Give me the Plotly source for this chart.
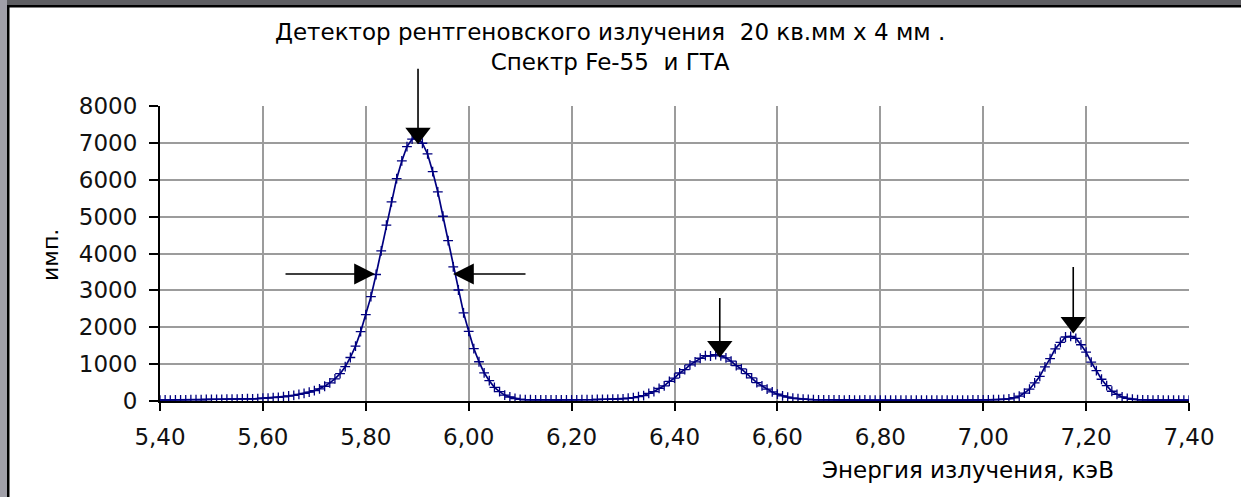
import plotly.graph_objects as go

# ---------------- data ----------------
energy_kev = [
    5.40, 5.41, 5.42, 5.43, 5.44, 5.45, 5.46, 5.47, 5.48, 5.49,
    5.50, 5.51, 5.52, 5.53, 5.54, 5.55, 5.56, 5.57, 5.58, 5.59,
    5.60, 5.61, 5.62, 5.63, 5.64, 5.65, 5.66, 5.67, 5.68, 5.69,
    5.70, 5.71, 5.72, 5.73, 5.74, 5.75, 5.76, 5.77, 5.78, 5.79,
    5.80, 5.81, 5.82, 5.83, 5.84, 5.85, 5.86, 5.87, 5.88, 5.89,
    5.90, 5.91, 5.92, 5.93, 5.94, 5.95, 5.96, 5.97, 5.98, 5.99,
    6.00, 6.01, 6.02, 6.03, 6.04, 6.05, 6.06, 6.07, 6.08, 6.09,
    6.10, 6.11, 6.12, 6.13, 6.14, 6.15, 6.16, 6.17, 6.18, 6.19,
    6.20, 6.21, 6.22, 6.23, 6.24, 6.25, 6.26, 6.27, 6.28, 6.29,
    6.30, 6.31, 6.32, 6.33, 6.34, 6.35, 6.36, 6.37, 6.38, 6.39,
    6.40, 6.41, 6.42, 6.43, 6.44, 6.45, 6.46, 6.47, 6.48, 6.49,
    6.50, 6.51, 6.52, 6.53, 6.54, 6.55, 6.56, 6.57, 6.58, 6.59,
    6.60, 6.61, 6.62, 6.63, 6.64, 6.65, 6.66, 6.67, 6.68, 6.69,
    6.70, 6.71, 6.72, 6.73, 6.74, 6.75, 6.76, 6.77, 6.78, 6.79,
    6.80, 6.81, 6.82, 6.83, 6.84, 6.85, 6.86, 6.87, 6.88, 6.89,
    6.90, 6.91, 6.92, 6.93, 6.94, 6.95, 6.96, 6.97, 6.98, 6.99,
    7.00, 7.01, 7.02, 7.03, 7.04, 7.05, 7.06, 7.07, 7.08, 7.09,
    7.10, 7.11, 7.12, 7.13, 7.14, 7.15, 7.16, 7.17, 7.18, 7.19,
    7.20, 7.21, 7.22, 7.23, 7.24, 7.25, 7.26, 7.27, 7.28, 7.29,
    7.30, 7.31, 7.32, 7.33, 7.34, 7.35, 7.36, 7.37, 7.38, 7.39,
    7.40,
]

counts = [
    25, 28, 24, 30, 33, 29, 35, 37, 34, 40,
    42, 46, 44, 50, 53, 51, 58, 61, 57, 66,
    75, 80, 90, 100, 115, 135, 155, 180, 205, 240,
    280, 330, 400, 490, 600, 740, 930, 1180, 1490, 1880,
    2340, 2830, 3430, 4070, 4770, 5400, 6030, 6510, 6900, 7100,
    7150, 6990, 6700, 6220, 5670, 5010, 4350, 3640, 3010, 2390,
    1890, 1420, 1065, 765, 550, 370, 255, 160, 108, 68,
    45, 38, 34, 30, 32, 28, 30, 27, 31, 29,
    33, 30, 35, 38, 36, 40, 44, 42, 48, 52,
    60, 74, 92, 118, 148, 205, 255, 340, 410, 530,
    620, 760, 850, 980, 1060, 1160, 1230, 1220, 1260, 1225,
    1170, 1080, 960, 870, 740, 625, 500, 410, 320, 245,
    185, 140, 105, 80, 62, 50, 42, 36, 33, 30,
    28, 31, 27, 25, 29, 26, 24, 27, 23, 25,
    22, 26, 24, 21, 25, 23, 22, 24, 20, 23,
    25, 22, 21, 24, 22, 26, 23, 25, 28, 27,
    30, 32, 35, 38, 44, 58, 88, 130, 215, 320,
    490, 670, 925, 1150, 1415, 1590, 1735, 1755, 1700, 1525,
    1325, 1055, 825, 590, 415, 265, 180, 108, 72, 48,
    36, 30, 28, 26, 27, 24, 25, 23, 24, 22,
    23,
]

x_ticks = [5.40, 5.60, 5.80, 6.00, 6.20, 6.40, 6.60, 6.80, 7.00, 7.20, 7.40]
y_ticks = [0, 1000, 2000, 3000, 4000, 5000, 6000, 7000, 8000]

title_lines = ["Детектор рентгеновского излучения  20 кв.мм х 4 мм .", "Спектр Fe-55  и ГТА"]
x_title = "Энергия излучения, кэВ"
y_title = "имп."

# peak markers (energy, count at arrow head) and FWHM level
peak_energy = [5.9015, 6.488, 7.175]
peak_head = [7262, 1478, 2129]
peak_line_len = [66, 50, 57]
fwhm_level = 3444
fwhm_left, fwhm_right = 5.8179, 5.9695

# ---------------- layout geometry ----------------
W, H = 1241, 497
L, R, T, B = 160, 1189, 106, 401


def px(xp):
    return (xp - L) / (R - L)


def py(yp):
    return (B - yp) / (B - T)


FONT = "DejaVu Sans"
NAVY = "#000080"
FS = 23

fig = go.Figure()
fig.add_trace(go.Scatter(
    x=energy_kev, y=counts, mode="lines+markers",
    line=dict(color=NAVY, width=1.7),
    marker=dict(symbol="cross-thin", size=7, line=dict(color=NAVY, width=1.3), color=NAVY),
    hoverinfo="skip", showlegend=False,
))
fig.add_trace(go.Scatter(
    x=peak_energy, y=peak_head, mode="markers",
    marker=dict(symbol="triangle-down", size=22, color="black"),
    cliponaxis=False, hoverinfo="skip", showlegend=False,
))

annotations = []
for e, h, ln in zip(peak_energy, peak_head, peak_line_len):
    annotations.append(dict(x=e, y=h, xref="x", yref="y", text="", showarrow=True,
                            arrowhead=0, arrowwidth=1.6, arrowcolor="black",
                            ax=0, ay=-ln, standoff=0))
annotations.append(dict(x=fwhm_left, y=fwhm_level, xref="x", yref="y", text="", showarrow=True,
                        arrowhead=2, arrowsize=2.6, arrowwidth=1.6, arrowcolor="black",
                        ax=-91, ay=0, standoff=0))
annotations.append(dict(x=fwhm_right, y=fwhm_level, xref="x", yref="y", text="", showarrow=True,
                        arrowhead=2, arrowsize=2.6, arrowwidth=1.6, arrowcolor="black",
                        ax=74, ay=0, standoff=0))
annotations.append(dict(x=px(610), y=py(47), xref="paper", yref="paper",
                        text="<br>".join(title_lines), showarrow=False,
                        xanchor="center", yanchor="middle", align="center",
                        font=dict(family=FONT, size=FS, color="black")))
annotations.append(dict(x=px(968), y=py(470), xref="paper", yref="paper",
                        text=x_title, showarrow=False, xanchor="center", yanchor="middle",
                        font=dict(family=FONT, size=FS, color="black")))
annotations.append(dict(x=px(50), y=py(255), xref="paper", yref="paper",
                        text=y_title, showarrow=False, xanchor="center", yanchor="middle",
                        textangle=-90, font=dict(family=FONT, size=FS - 1, color="black")))

shapes = [
    dict(type="rect", xref="paper", yref="paper", x0=px(0), x1=px(W), y0=py(5), y1=py(0),
         fillcolor="#5e5e62", line=dict(width=0), layer="above"),
    dict(type="rect", xref="paper", yref="paper", x0=px(0), x1=px(7), y0=py(H), y1=py(0),
         fillcolor="#a09fa8", line=dict(width=0), layer="above"),
    dict(type="rect", xref="paper", yref="paper", x0=px(7), x1=px(W), y0=py(7.5), y1=py(5),
         fillcolor="black", line=dict(width=0), layer="above"),
    dict(type="rect", xref="paper", yref="paper", x0=px(7), x1=px(9.5), y0=py(H), y1=py(5),
         fillcolor="black", line=dict(width=0), layer="above"),
]

fig.update_layout(
    width=W, height=H,
    margin=dict(l=L, r=W - R, t=T, b=H - B, autoexpand=False),
    paper_bgcolor="white", plot_bgcolor="white",
    separators=", ",
    font=dict(family=FONT, size=FS, color="black"),
    annotations=annotations, shapes=shapes,
    xaxis=dict(range=[5.4, 7.4], tickvals=x_ticks, tickformat=".2f",
               showgrid=True, gridcolor="#9c9c9c", gridwidth=1.5,
               showline=True, linecolor="black", linewidth=2,
               ticks="outside", ticklen=8, tickwidth=1.5, tickcolor="black",
               zeroline=False, ticklabelstandoff=6,
               tickfont=dict(family=FONT, size=FS, color="#111")),
    yaxis=dict(range=[0, 8000], tickvals=y_ticks,
               showgrid=True, gridcolor="#9c9c9c", gridwidth=1.5,
               showline=True, linecolor="black", linewidth=2,
               ticks="outside", ticklen=9, tickwidth=1.5, tickcolor="black",
               zeroline=False, ticklabelstandoff=7,
               tickfont=dict(family=FONT, size=FS, color="#111")),
)

fig.write_html("out.html")
